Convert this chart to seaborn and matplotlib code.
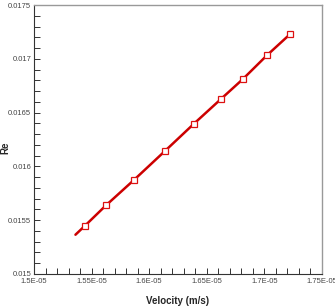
# Re vs velocity line chart
import pandas as pd
import seaborn as sns
import matplotlib.pyplot as plt
from matplotlib.ticker import MultipleLocator, FuncFormatter

# data
velocity = [1.536e-5, 1.5443e-5, 1.5625e-5, 1.5868e-5, 1.6137e-5, 1.6389e-5,
            1.6623e-5, 1.6814e-5, 1.7023e-5, 1.7222e-5]
re = [0.015365, 0.015449, 0.015638, 0.015874, 0.016143, 0.016397,
      0.016626, 0.016812, 0.017033, 0.017228]
marked = [False, True, True, True, True, True, True, True, True, True]

df = pd.DataFrame({"Velocity": velocity, "Re": re, "marked": marked})

sns.set_style("white")
plt.rcParams['font.family'] = ['Liberation Sans', 'DejaVu Sans']

fig = plt.figure(figsize=(3.35, 3.06), dpi=100)
ax = fig.add_axes([0.1015, 0.1046, 0.8595, 0.879])

sns.lineplot(data=df, x="Velocity", y="Re", color="#cc0000", linewidth=1.8, ax=ax)
sns.lineplot(data=df[df["marked"]], x="Velocity", y="Re", linestyle="", marker="s",
             markersize=5, zorder=3, ax=ax)
pts = ax.lines[-1]
pts.set_markerfacecolor("white")
pts.set_markeredgecolor("#dd1111")
pts.set_markeredgewidth(0.9)

ax.set_xlim(1.5e-5, 1.75e-5)
ax.set_ylim(0.015, 0.0175)
ax.xaxis.set_major_locator(MultipleLocator(0.05e-5))
ax.xaxis.set_minor_locator(MultipleLocator(0.01e-5))
ax.yaxis.set_major_locator(MultipleLocator(0.0005))
ax.yaxis.set_minor_locator(MultipleLocator(0.0001))

xlabels = {0: "1.5E-05", 1: "1.55E-05", 2: "1.6E-05", 3: "1.65E-05", 4: "1.7E-05", 5: "1.75E-05"}
ax.xaxis.set_major_formatter(FuncFormatter(lambda v, p: xlabels.get(int(round((v - 1.5e-5) / 0.05e-5)), "")))
ax.yaxis.set_major_formatter(FuncFormatter(lambda v, p: ("%.4f" % v).rstrip("0")))

ax.tick_params(which="both", direction="in", bottom=True, left=True, color="#333333",
               labelsize=5.5, labelcolor="#444444", width=0.7, length=4, pad=2)
ax.tick_params(axis="x", pad=3)

for side in ["left", "bottom"]:
    ax.spines[side].set_color("#333333")
    ax.spines[side].set_linewidth(0.8)
for side in ["top", "right"]:
    ax.spines[side].set_color("#999999")
    ax.spines[side].set_linewidth(1.0)

ax.set_xlabel("Velocity (m/s)", fontsize=7, fontweight="bold", labelpad=8)
ax.set_ylabel("Re", fontsize=7, fontweight="bold")
ax.yaxis.set_label_coords(-0.083, 0.47)

fig.savefig("out.png", dpi=100)
